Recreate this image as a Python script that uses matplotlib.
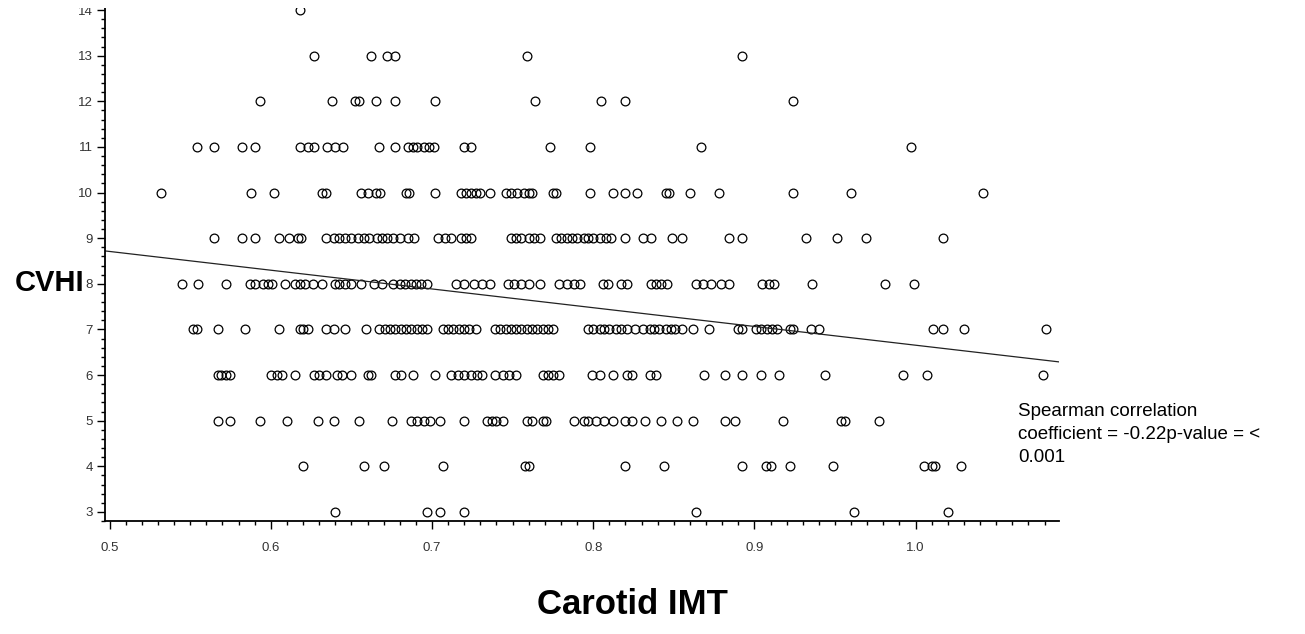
import matplotlib
matplotlib.use("Agg")
import matplotlib.pyplot as plt
from matplotlib.ticker import MultipleLocator, FormatStrFormatter
from matplotlib.patches import Rectangle
import numpy as np

plt.rcParams['font.family'] = ['Liberation Sans', 'DejaVu Sans']

# CVHI score rows (y) and Carotid IMT values (x)
imt_cvhi14 = [0.618]
imt_cvhi13 = [0.627, 0.662, 0.672, 0.677, 0.759, 0.892]
imt_cvhi12 = [0.593, 0.638, 0.652, 0.655, 0.665, 0.677, 0.702, 0.764, 0.805, 0.820, 0.924]
imt_cvhi11 = [0.554, 0.565, 0.582, 0.590, 0.618, 0.623, 0.627, 0.635, 0.640, 0.645,
              0.667, 0.677, 0.685, 0.688, 0.691, 0.695, 0.698, 0.701, 0.720, 0.724,
              0.773, 0.798, 0.867, 0.997]
imt_cvhi10 = [0.532, 0.588, 0.602, 0.632, 0.634, 0.656, 0.660, 0.665, 0.668, 0.684,
              0.686, 0.702, 0.718, 0.721, 0.724, 0.727, 0.730, 0.736, 0.746, 0.749,
              0.753, 0.757, 0.760, 0.762, 0.775, 0.777, 0.798, 0.812, 0.820, 0.827,
              0.845, 0.847, 0.860, 0.878, 0.924, 0.960, 1.042]
imt_cvhi9 = [0.565, 0.582, 0.590, 0.605, 0.611, 0.617, 0.619, 0.634, 0.639, 0.642,
             0.646, 0.650, 0.654, 0.658, 0.661, 0.666, 0.669, 0.672, 0.676, 0.680,
             0.685, 0.689, 0.704, 0.708, 0.712, 0.718, 0.721, 0.724, 0.749, 0.752,
             0.755, 0.760, 0.763, 0.767, 0.777, 0.780, 0.784, 0.787, 0.790, 0.794,
             0.797, 0.800, 0.804, 0.808, 0.811, 0.820, 0.831, 0.836, 0.849, 0.855,
             0.884, 0.892, 0.932, 0.951, 0.969, 1.017]
imt_cvhi8 = [0.545, 0.555, 0.572, 0.587, 0.590, 0.595, 0.598, 0.601, 0.609, 0.615,
             0.618, 0.621, 0.626, 0.632, 0.640, 0.642, 0.646, 0.650, 0.656, 0.664,
             0.669, 0.676, 0.680, 0.683, 0.687, 0.690, 0.693, 0.697, 0.715, 0.720,
             0.726, 0.731, 0.736, 0.747, 0.751, 0.755, 0.760, 0.767, 0.779, 0.784,
             0.788, 0.792, 0.806, 0.809, 0.817, 0.821, 0.836, 0.839, 0.842, 0.846,
             0.864, 0.868, 0.873, 0.879, 0.884, 0.905, 0.909, 0.912, 0.936, 0.981,
             0.999]
imt_cvhi7 = [0.552, 0.554, 0.567, 0.584, 0.605, 0.618, 0.620, 0.623, 0.634, 0.639,
             0.646, 0.659, 0.667, 0.671, 0.674, 0.677, 0.681, 0.684, 0.687, 0.691,
             0.694, 0.697, 0.707, 0.710, 0.713, 0.717, 0.720, 0.723, 0.727, 0.739,
             0.742, 0.746, 0.749, 0.752, 0.755, 0.759, 0.762, 0.765, 0.769, 0.772,
             0.775, 0.797, 0.800, 0.804, 0.807, 0.810, 0.814, 0.817, 0.821, 0.826,
             0.831, 0.835, 0.838, 0.841, 0.845, 0.848, 0.851, 0.855, 0.862, 0.872,
             0.890, 0.892, 0.901, 0.904, 0.908, 0.911, 0.914, 0.922, 0.924, 0.935,
             0.940, 1.011, 1.017, 1.030, 1.081]
imt_cvhi6 = [0.567, 0.569, 0.572, 0.575, 0.600, 0.604, 0.607, 0.615, 0.627, 0.630,
             0.634, 0.641, 0.644, 0.650, 0.660, 0.662, 0.677, 0.681, 0.688, 0.702,
             0.712, 0.716, 0.720, 0.724, 0.728, 0.731, 0.739, 0.744, 0.748, 0.752,
             0.769, 0.772, 0.775, 0.779, 0.799, 0.804, 0.812, 0.821, 0.824, 0.835,
             0.839, 0.869, 0.882, 0.892, 0.904, 0.915, 0.944, 0.992, 1.007, 1.079]
imt_cvhi5 = [0.567, 0.575, 0.593, 0.610, 0.629, 0.639, 0.655, 0.675, 0.687, 0.691,
             0.695, 0.699, 0.705, 0.720, 0.734, 0.737, 0.740, 0.744, 0.759, 0.762,
             0.769, 0.771, 0.788, 0.794, 0.797, 0.802, 0.807, 0.812, 0.820, 0.824,
             0.832, 0.842, 0.852, 0.862, 0.882, 0.888, 0.918, 0.954, 0.956, 0.977]
imt_cvhi4 = [0.620, 0.658, 0.670, 0.707, 0.758, 0.760, 0.820, 0.844, 0.892, 0.907,
             0.910, 0.922, 0.949, 1.005, 1.010, 1.012, 1.028]
imt_cvhi3 = [0.640, 0.697, 0.705, 0.720, 0.864, 0.962, 1.020]

cvhi_levels = [14, 13, 12, 11, 10, 9, 8, 7, 6, 5, 4, 3]
imt_rows = [imt_cvhi14, imt_cvhi13, imt_cvhi12, imt_cvhi11, imt_cvhi10, imt_cvhi9,
            imt_cvhi8, imt_cvhi7, imt_cvhi6, imt_cvhi5, imt_cvhi4, imt_cvhi3]

# fitted trend line: CVHI = intercept + slope * IMT
fit_intercept = 10.763
fit_slope = -4.11

x_ticks = [0.5, 0.6, 0.7, 0.8, 0.9, 1.0]
y_ticks = [3, 4, 5, 6, 7, 8, 9, 10, 11, 12, 13, 14]

W, H = 1305, 634
fig = plt.figure(figsize=(W / 100, H / 100), dpi=100)
ax = fig.add_axes([105.4 / W, 1 - 521 / H, (1058.6 - 105.4) / W, (521 + 1.4) / H])

xs = np.concatenate([np.asarray(r, dtype=float) for r in imt_rows])
ys = np.concatenate([np.full(len(r), lvl, dtype=float) for r, lvl in zip(imt_rows, cvhi_levels)])

ax.plot(xs, ys, linestyle='none', marker='o', markersize=6.3,
        markerfacecolor='none', markeredgecolor='black', markeredgewidth=0.9,
        clip_on=True)

xlim = (0.4974, 1.0887)
xl = np.array(xlim)
ax.plot(xl, fit_intercept + fit_slope * xl, color='#222222', linewidth=0.9)

ax.set_xlim(*xlim)
ax.set_ylim(2.8, 14.25)

ax.spines['top'].set_visible(False)
ax.spines['right'].set_visible(False)
for s in ('left', 'bottom'):
    ax.spines[s].set_linewidth(1.3)
    ax.spines[s].set_color('black')

ax.set_xticks(x_ticks)
ax.set_yticks(y_ticks)
ax.xaxis.set_major_formatter(FormatStrFormatter('%.1f'))
ax.xaxis.set_minor_locator(MultipleLocator(0.01))
ax.yaxis.set_minor_locator(MultipleLocator(0.2))
ax.tick_params(axis='both', which='major', direction='out', length=6, width=1.0,
               color='black', labelsize=9.5, labelcolor='#333333', pad=3)
ax.tick_params(axis='both', which='minor', direction='out', length=3, width=1.0,
               color='black')
ax.tick_params(axis='x', which='major', pad=9)

fig.text(84 / W, 1 - 283 / H, 'CVHI', ha='right', va='center',
         fontsize=21, fontweight='bold', color='black')
fig.text(632 / W, 1 - 604 / H, 'Carotid IMT', ha='center', va='center',
         fontsize=25, fontweight='bold', color='black')
fig.text(1018 / W, 1 - 403 / H,
         'Spearman correlation\ncoefficient = -0.22p-value = <\n0.001',
         ha='left', va='top', fontsize=13.5, linespacing=1.45, color='black')

# the source image is cropped just above the top row: blank strip at the top edge
fig.add_artist(Rectangle((0, 1 - 7.5 / H), 1, 7.5 / H, transform=fig.transFigure,
                         facecolor='white', edgecolor='none', zorder=20))

fig.savefig('out.png', dpi=100)
